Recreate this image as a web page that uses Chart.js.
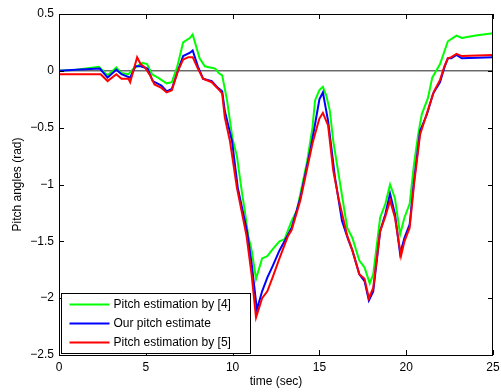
<!DOCTYPE html>
<html>
<head>
<meta charset="utf-8">
<script src="https://cdn.jsdelivr.net/npm/chart.js@4.4.1/dist/chart.umd.min.js"></script>
<style>
html,body{margin:0;padding:0;background:#fff;}
#wrap{width:501px;height:392px;}
</style>
</head>
<body>
<div id="wrap"><canvas id="c" width="501" height="392"></canvas></div>
<script>
const seriesNames = ["Pitch estimation by [4]", "Our pitch estimate", "Pitch estimation by [5]"];
const seriesColors = ["#00ff00", "#0000ff", "#ff0000"];

const greenT = [0,1,2.3,2.8,3.3,3.6,4.0,4.3,4.8,5.07,5.36,5.7,6.2,6.5,6.8,7.15,7.55,7.7,8.1,8.4,8.7,9.0,9.2,9.4,9.68,10.0,10.25,10.5,10.7,10.9,11.1,11.35,11.7,12.0,12.3,12.7,13.0,13.2,13.4,13.7,14.3,14.6,14.75,15.0,15.2,15.4,15.6,15.8,16.2,16.6,16.9,17.3,17.6,17.9,18.1,18.5,18.8,19.07,19.35,19.65,19.9,20.2,20.45,20.7,20.9,21.25,21.5,21.95,22.4,22.7,22.9,23.2,24,25];
const greenV = [0,0.01,0.035,-0.04,0.03,-0.02,-0.03,0.02,0.07,0.06,-0.03,-0.06,-0.11,-0.10,0.03,0.25,0.29,0.32,0.11,0.04,0.03,0.02,-0.02,-0.04,-0.26,-0.60,-0.75,-1.03,-1.23,-1.45,-1.58,-1.83,-1.65,-1.63,-1.57,-1.50,-1.48,-1.40,-1.32,-1.23,-0.79,-0.50,-0.26,-0.17,-0.14,-0.22,-0.35,-0.62,-1.00,-1.38,-1.47,-1.67,-1.73,-1.87,-1.79,-1.29,-1.17,-1.00,-1.12,-1.44,-1.29,-1.17,-0.82,-0.55,-0.38,-0.24,-0.06,0.06,0.26,0.29,0.31,0.29,0.31,0.33];

const blueT = [0,1,2.35,2.8,3.3,3.6,4.1,4.4,4.7,5.1,5.4,5.9,6.2,6.5,6.85,7.15,7.55,7.7,8.0,8.3,8.8,9.15,9.4,9.55,9.97,10.3,10.83,11.1,11.4,11.7,12.0,12.3,12.7,13.2,13.4,13.9,14.5,14.75,15.0,15.2,15.5,15.9,16.3,16.65,16.9,17.3,17.6,17.85,18.1,18.5,18.8,19.07,19.35,19.65,19.9,20.2,20.45,20.8,21.2,21.55,21.95,22.2,22.4,22.6,22.9,23.2,25];
const blueV = [0,0.01,0.02,-0.06,0.01,-0.03,-0.06,0.04,0.04,0.02,-0.09,-0.13,-0.18,-0.16,0.0,0.13,0.16,0.18,0.04,-0.07,-0.09,-0.15,-0.18,-0.35,-0.62,-1.03,-1.41,-1.70,-2.10,-1.94,-1.82,-1.72,-1.58,-1.44,-1.38,-1.12,-0.68,-0.47,-0.25,-0.19,-0.44,-0.94,-1.32,-1.48,-1.58,-1.79,-1.85,-2.02,-1.94,-1.41,-1.26,-1.08,-1.26,-1.61,-1.47,-1.35,-0.97,-0.53,-0.38,-0.20,-0.10,0.03,0.11,0.11,0.14,0.11,0.12];

const redT = [0,2.4,2.8,3.3,3.6,4.0,4.1,4.5,4.7,4.95,5.25,5.5,5.9,6.2,6.5,6.85,7.15,7.45,7.7,8.0,8.3,8.8,9.3,9.4,9.55,9.85,10.25,10.8,11.1,11.35,11.7,12.0,12.3,12.7,13.2,13.4,13.9,14.6,14.85,15.0,15.2,15.5,15.8,16.1,16.6,16.9,17.3,17.6,17.85,18.1,18.5,18.8,19.07,19.35,19.7,19.9,20.2,20.45,20.8,21.2,21.6,21.95,22.2,22.4,22.6,22.9,23.2,25];
const redV = [-0.03,-0.03,-0.09,-0.03,-0.07,-0.07,-0.10,0.12,0.06,0.03,-0.04,-0.12,-0.15,-0.19,-0.17,0.0,0.10,0.12,0.12,0.02,-0.07,-0.10,-0.18,-0.20,-0.41,-0.62,-1.03,-1.45,-1.80,-2.17,-2.00,-1.94,-1.82,-1.65,-1.45,-1.40,-1.14,-0.64,-0.50,-0.42,-0.37,-0.48,-0.88,-1.12,-1.45,-1.58,-1.79,-1.83,-2.00,-1.91,-1.41,-1.28,-1.14,-1.29,-1.63,-1.50,-1.38,-1.00,-0.56,-0.37,-0.18,-0.08,0.04,0.11,0.12,0.15,0.13,0.14];

const xTicks = [0,5,10,15,20,25];
const yTicks = [0.5,0,-0.5,-1,-1.5,-2,-2.5];
const xTitle = "time (sec)";
const yTitle = "Pitch angles (rad)";

function pts(t, v){ return t.map((x,i)=>({x:x, y:v[i]})); }

const FONT = "Liberation Sans, Arial, Helvetica, sans-serif";

const boxPlugin = {
  id: 'boxPlugin',
  afterDraw(chart){
    const ctx = chart.ctx, a = chart.chartArea;
    const xs = chart.scales.x, ys = chart.scales.y;
    ctx.save();
    ctx.strokeStyle = '#000';
    ctx.lineWidth = 1;
    ctx.strokeRect(Math.round(a.left)+0.5, Math.round(a.top)+0.5, Math.round(a.right-a.left)-1, Math.round(a.bottom-a.top));
    ctx.beginPath();
    const tl = 5;
    xTicks.forEach(v=>{
      const px = Math.round(xs.getPixelForValue(v))+0.5;
      ctx.moveTo(px, a.bottom); ctx.lineTo(px, a.bottom-tl);
      ctx.moveTo(px, a.top); ctx.lineTo(px, a.top+tl);
    });
    yTicks.forEach(v=>{
      const py = Math.round(ys.getPixelForValue(v))+0.5;
      ctx.moveTo(a.left, py); ctx.lineTo(a.left+tl, py);
      ctx.moveTo(a.right, py); ctx.lineTo(a.right-tl, py);
    });
    ctx.stroke();
    // legend
    const lx = Math.round(a.left)+2.5, lw = 189, lh = 60;
    const ly = Math.round(a.bottom)-lh-1.5;
    ctx.fillStyle = '#fff';
    ctx.fillRect(lx, ly, lw, lh);
    ctx.strokeStyle = '#000';
    ctx.lineWidth = 1;
    ctx.strokeRect(lx, ly, lw, lh);
    ctx.font = "12px " + FONT;
    ctx.textBaseline = 'middle';
    ctx.textAlign = 'left';
    seriesNames.forEach((n,i)=>{
      const yy = ly + 11 + i*19;
      ctx.strokeStyle = seriesColors[i];
      ctx.lineWidth = 2;
      ctx.beginPath();
      ctx.moveTo(lx+8, yy); ctx.lineTo(lx+48, yy);
      ctx.stroke();
      ctx.fillStyle = '#000';
      ctx.fillText(n, lx+52, yy);
    });
    ctx.restore();
  }
};

new Chart(document.getElementById('c'), {
  type: 'line',
  data: {
    datasets: [
      {label: 'zero', data: [{x:0,y:0},{x:25,y:0}], borderColor:'#222', borderWidth:1, pointRadius:0, order:10},
      {label: seriesNames[0], data: pts(greenT, greenV), borderColor: seriesColors[0], borderWidth:2, pointRadius:0, tension:0, order:3},
      {label: seriesNames[1], data: pts(blueT, blueV), borderColor: seriesColors[1], borderWidth:2, pointRadius:0, tension:0, order:2},
      {label: seriesNames[2], data: pts(redT, redV), borderColor: seriesColors[2], borderWidth:2, pointRadius:0, tension:0, order:1}
    ]
  },
  options: {
    responsive: false,
    animation: false,
    devicePixelRatio: 1,
    layout: {padding: {left:0, top:14, right:8, bottom:0}},
    plugins: {legend: {display:false}, tooltip: {enabled:false}},
    scales: {
      x: {
        type: 'linear', min: 0, max: 25,
        afterFit(s){ s.height = 37; s.paddingRight = 0; },
        afterBuildTicks(s){ s.ticks = xTicks.map(v=>({value:v})); },
        grid: {display:false, drawTicks:false},
        border: {display:false},
        ticks: {padding:5, color:'#000', font:{family:FONT, size:12}, maxRotation:0, callback:(v)=>String(v)},
        title: {display:true, text:xTitle, color:'#000', font:{family:FONT, size:12}, padding:{top:0,bottom:3}}
      },
      y: {
        type: 'linear', min: -2.5, max: 0.5,
        afterFit(s){ s.width = 59; },
        afterBuildTicks(s){ s.ticks = yTicks.map(v=>({value:v})); },
        grid: {display:false, drawTicks:false},
        border: {display:false},
        ticks: {padding:5, color:'#000', font:{family:FONT, size:12}, callback:(v)=> v===0 ? '0' : String(v).replace('-', '\u2212')},
        title: {display:true, text:yTitle, color:'#000', font:{family:FONT, size:12}, padding:{top:10,bottom:0}}
      }
    }
  },
  plugins: [boxPlugin]
});
</script>
</body>
</html>
